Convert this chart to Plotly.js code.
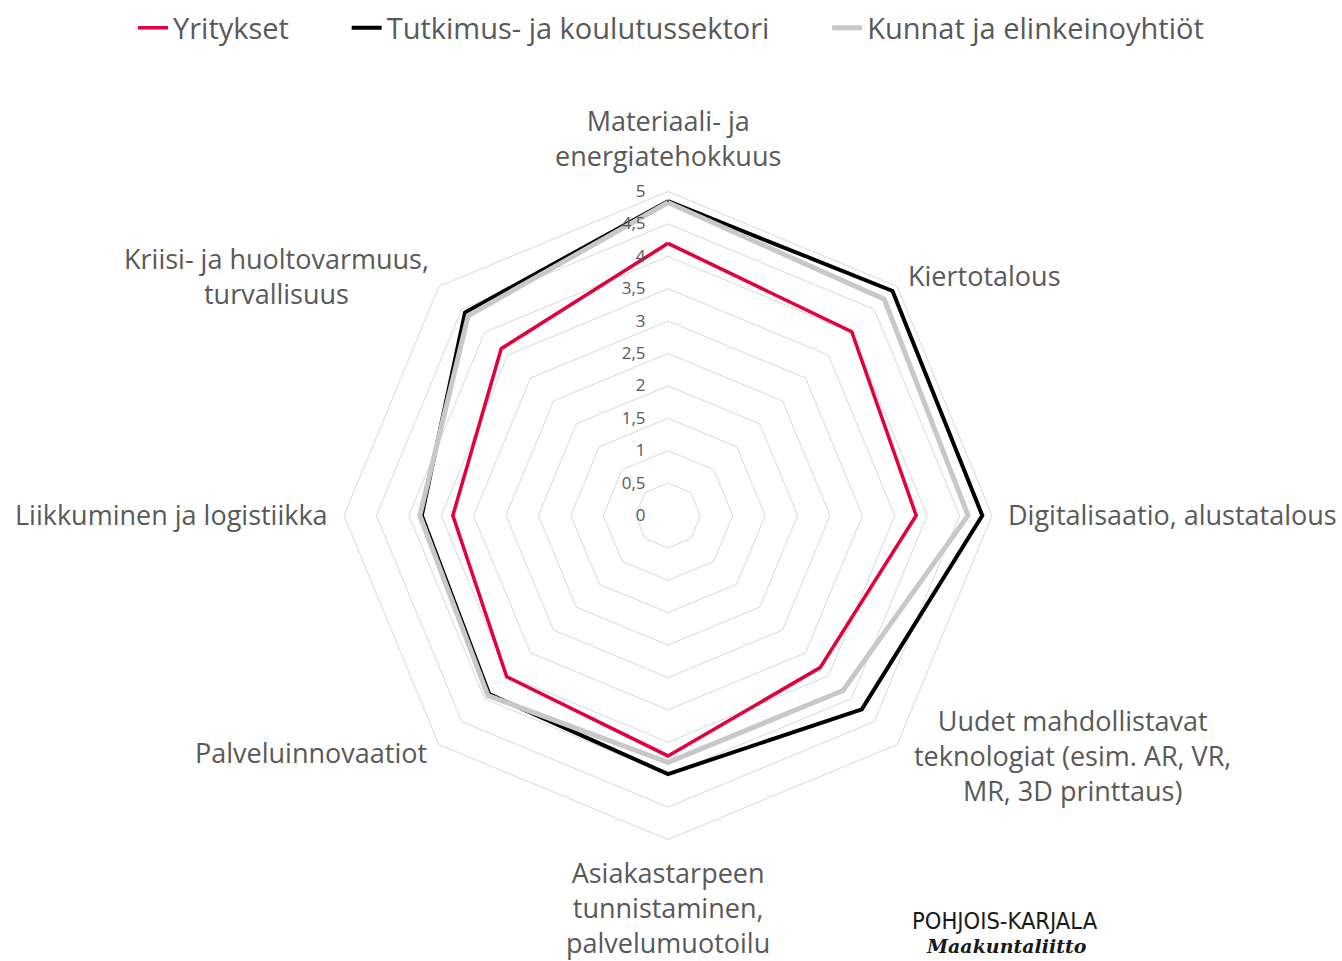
<!DOCTYPE html>
<html>
<head>
<meta charset="utf-8">
<script src="https://cdn.plot.ly/plotly-3.0.1.min.js"></script>
<style>html,body{margin:0;padding:0;background:#fff;}#chart{width:1342px;height:961px;}</style>
</head>
<body>
<div id="chart"></div>
<script>
const categories = [
  "Materiaali- ja<br>energiatehokkuus",
  "Kiertotalous",
  "Digitalisaatio, alustatalous",
  "Uudet mahdollistavat<br>teknologiat (esim. AR, VR,<br>MR, 3D printtaus)",
  "Asiakastarpeen<br>tunnistaminen,<br>palvelumuotoilu",
  "Palveluinnovaatiot",
  "Liikkuminen ja logistiikka",
  "Kriisi- ja huoltovarmuus,<br>turvallisuus"
];
const seriesNames = ["Yritykset", "Tutkimus- ja koulutussektori", "Kunnat ja elinkeinoyhtiöt"];
const yritykset = [4.2, 4.01, 3.83, 3.32, 3.71, 3.52, 3.32, 3.64];
const tutkimus = [4.85, 4.9, 4.85, 4.23, 3.99, 3.9, 3.8, 4.43];
const kunnat = [4.83, 4.72, 4.63, 3.82, 3.81, 3.93, 3.83, 4.36];
const radialTicks = [0, 0.5, 1, 1.5, 2, 2.5, 3, 3.5, 4, 4.5, 5];

// label placement (pixels, centre of each text block) – layout only
const labelPos = [[668, 138], [985, 275], [1172, 514], [1072, 755], [668, 907], [311, 752], [171, 514], [276, 276]];

const colors = ["#e4003a", "#000000", "#c8c8c8"];
const widths = [3.5, 4, 5];
const values = [yritykset, tutkimus, kunnat];
const pad = "\u00a0\u00a0\u00a0\u00a0\u00a0\u00a0\u00a0";

const close = a => a.concat([a[0]]);
const traces = values.map((v, i) => ({
  type: "scatterpolar",
  mode: "lines",
  r: close(v),
  theta: close(categories),
  name: seriesNames[i] + (i < 2 ? pad : ""),
  line: {color: colors[i], width: widths[i], shape: "linear"},
  hoverinfo: "skip"
}));

const W = 1342, H = 961, cx = 668, cy = 515.5, R = 324;
const FONT = "'Open Sans', Lato, sans-serif";
const annotations = categories.map((c, i) => ({
  text: c, xref: "paper", yref: "paper",
  x: labelPos[i][0] / W, y: 1 - labelPos[i][1] / H,
  xanchor: "center", yanchor: "middle", align: "center", showarrow: false,
  font: {family: FONT, size: 27, color: "#595959"}
}));
annotations.push(
  {text: "POHJOIS-KARJALA", x: 1005 / W, y: 1 - 921 / H, xref: "paper", yref: "paper", showarrow: false,
   xanchor: "center", yanchor: "middle",
   font: {size: 23.5, color: "#1a1a1a", family: "'DejaVu Sans Condensed', 'DejaVu Sans', sans-serif"}},
  {text: "<b><i>Maakuntaliitto</i></b>", x: 1006 / W, y: 1 - 946 / H, xref: "paper", yref: "paper", showarrow: false,
   xanchor: "center", yanchor: "middle",
   font: {size: 19, color: "#1a1a1a", family: "'DejaVu Serif', serif"}}
);

const layout = {
  width: W, height: H,
  margin: {l: 0, r: 0, t: 0, b: 0},
  paper_bgcolor: "#ffffff",
  separators: ",.",
  font: {family: FONT, color: "#595959", size: 20},
  showlegend: true,
  legend: {
    orientation: "h", x: 671 / W, xanchor: "center", y: 1 - 28 / H, yanchor: "middle",
    font: {size: 29, color: "#595959", family: FONT}, tracegroupgap: 0
  },
  polar: {
    domain: {x: [(cx - R) / W, (cx + R) / W], y: [(H - cy - R) / H, (H - cy + R) / H]},
    gridshape: "linear",
    bgcolor: "rgba(0,0,0,0)",
    angularaxis: {
      type: "category",
      categoryarray: categories,
      direction: "clockwise",
      rotation: 90,
      showgrid: false,
      showline: true,
      linecolor: "#d9d9d9",
      linewidth: 1,
      ticks: "",
      showticklabels: false
    },
    radialaxis: {
      range: [0, 5],
      angle: 90,
      tickangle: 90,
      tickvals: radialTicks,
      showline: false,
      showgrid: true,
      gridcolor: "#d9d9d9",
      gridwidth: 1,
      ticks: "outside",
      ticklen: 16,
      tickcolor: "rgba(0,0,0,0)",
      tickfont: {size: 17, color: "#595959", family: FONT},
      side: "counterclockwise"
    }
  },
  annotations: annotations
};

Plotly.newPlot("chart", traces, layout, {displayModeBar: false, staticPlot: true});
</script>
</body>
</html>
